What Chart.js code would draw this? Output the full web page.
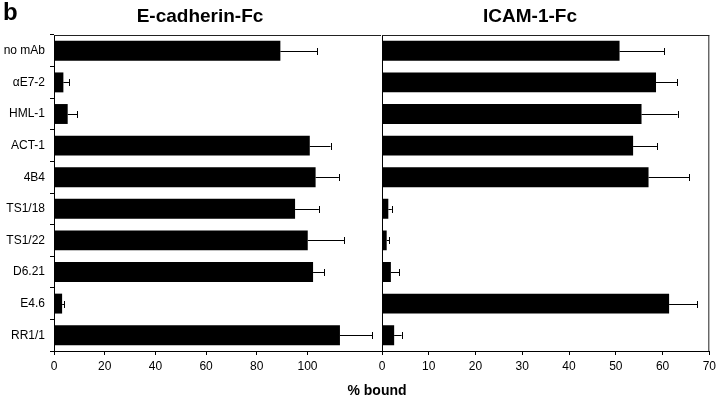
<!DOCTYPE html>
<html>
<head>
<meta charset="utf-8">
<script src="https://cdn.jsdelivr.net/npm/chart.js@4"></script>
<style>
  body { margin: 0; background: #fff; }
  #wrap { position: relative; width: 720px; height: 400px; font-family: 'Liberation Sans', Arial, sans-serif; color: #000; }
  canvas { position: absolute; top: 0; }
  .txt { position: absolute; font-weight: bold; white-space: nowrap; }
</style>
</head>
<body>
<div id="wrap">
  <canvas id="left" width="382" height="400" style="left:0"></canvas>
  <canvas id="right" width="350" height="400" style="left:370px"></canvas>
  <div class="txt" style="left:3px;top:0;font-size:24px;line-height:24px">b</div>
  <div class="txt" style="left:100px;top:6px;width:200px;text-align:center;font-size:19px;line-height:19px">E-cadherin-Fc</div>
  <div class="txt" style="left:430px;top:6px;width:200px;text-align:center;font-size:19px;line-height:19px">ICAM-1-Fc</div>
  <div class="txt" style="left:327px;top:383px;width:100px;text-align:center;font-size:14px;line-height:14px">% bound</div>
</div>
<script>
const antibodies = ['no mAb', 'αE7-2', 'HML-1', 'ACT-1', '4B4', 'TS1/18', 'TS1/22', 'D6.21', 'E4.6', 'RR1/1']
const ecadBound = [89.3, 3.7, 5.4, 100.9, 103.2, 95.1, 100.1, 102.2, 3.2, 112.8]
const ecadErr = [14.5, 2.2, 3.8, 8.2, 9.2, 9.4, 14.3, 4.5, 0.8, 12.8]
const icamBound = [50.8, 58.6, 55.5, 53.7, 57.0, 1.35, 1.0, 1.9, 61.4, 2.6]
const icamErr = [9.6, 4.5, 7.7, 5.1, 8.7, 0.75, 0.6, 1.8, 6.0, 1.6]
const ecadTicks = [0, 20, 40, 60, 80, 100]

Chart.defaults.font.family = "'Liberation Sans', Arial, sans-serif"
Chart.defaults.font.size = 12
Chart.defaults.color = '#000'

// error bars (upper side only) + frame lines
const errorBars = {
    id: 'errorBars',
    afterDatasetsDraw(chart) {
        const ctx = chart.ctx
        const xs = chart.scales.x
        const ys = chart.scales.y
        const ds = chart.data.datasets[0]
        ctx.save()
        ctx.strokeStyle = '#000'
        ctx.lineWidth = 1
        ds.data.forEach((v, i) => {
            const x0 = xs.getPixelForValue(v)
            const x1 = xs.getPixelForValue(v + ds.err[i])
            const y = Math.round(ys.getPixelForValue(i)) + 0.5
            ctx.beginPath()
            ctx.moveTo(x0, y)
            ctx.lineTo(x1, y)
            ctx.moveTo(Math.round(x1) + 0.5, y - 3.5)
            ctx.lineTo(Math.round(x1) + 0.5, y + 3.5)
            ctx.stroke()
        })
        const a = chart.chartArea
        ctx.strokeStyle = '#222'
        ctx.beginPath()
        ctx.moveTo(a.left, a.top + 0.5)
        ctx.lineTo(a.right, a.top + 0.5)
        if (chart.canvas.id === 'right') {
            ctx.moveTo(a.right - 0.5, a.top)
            ctx.lineTo(a.right - 0.5, a.bottom)
        }
        ctx.stroke()
        ctx.restore()
    }
}

function makeChart(id, values, errs, xmax, step, showLabels, pad) {
    return new Chart(document.getElementById(id), {
        type: 'bar',
        data: {
            labels: antibodies,
            datasets: [{
                data: values,
                err: errs,
                backgroundColor: '#000',
                barPercentage: 0.63,
                categoryPercentage: 1
            }]
        },
        options: {
            indexAxis: 'y',
            responsive: false,
            animation: false,
            devicePixelRatio: 1,
            layout: { padding: pad },
            plugins: { legend: { display: false }, tooltip: { enabled: false } },
            scales: {
                x: {
                    min: 0,
                    max: xmax,
                    ticks: { stepSize: step, padding: 4, maxRotation: 0 },
                    afterBuildTicks: scale => {
                        if (id === 'left') scale.ticks = ecadTicks.map(v => ({ value: v }))
                    },
                    afterFit: scale => { scale.height = 49 },
                    grid: { drawOnChartArea: false, tickLength: 4, color: '#000' },
                    border: { color: '#000' }
                },
                y: {
                    offset: true,
                    ticks: { display: showLabels, padding: 5 },
                    afterFit: scale => { scale.width = showLabels ? 54 : 12 },
                    grid: { display: showLabels, offset: true, drawOnChartArea: false, tickLength: 4, color: '#000' },
                    border: { color: '#000' }
                }
            }
        },
        plugins: [errorBars]
    })
}

makeChart('left', ecadBound, ecadErr, 129, 20, true, { top: 35, right: 1, left: 0, bottom: 0 })
makeChart('right', icamBound, icamErr, 70, 10, false, { top: 35, right: 10, left: 0, bottom: 0 })
</script>
</body>
</html>
